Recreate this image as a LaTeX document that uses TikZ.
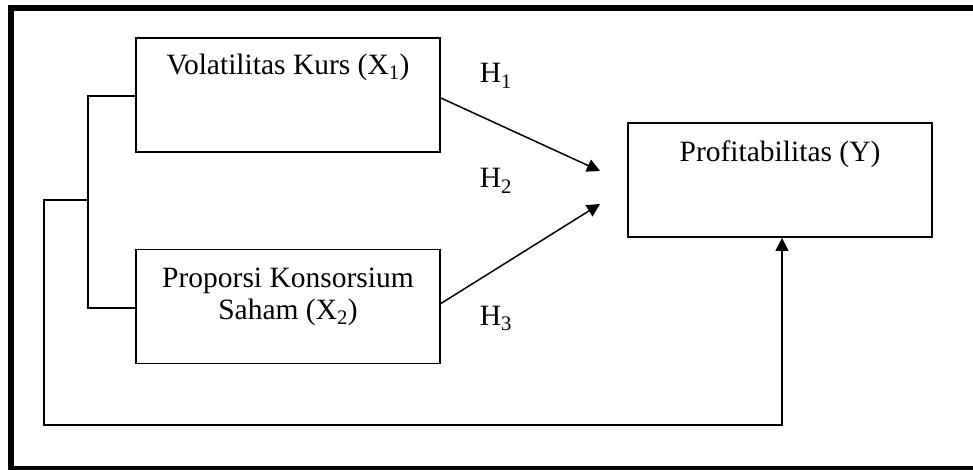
\documentclass[tikz,border=0pt]{standalone}
\usepackage{fontspec}
\setmainfont{Liberation Serif}
\usetikzlibrary{arrows.meta,positioning}
\tikzset{
  varbox/.style={draw, line width=1.8, minimum width=304, minimum height=114, inner sep=0},
  link/.style={line width=1.5, -{Triangle[length=13, width=13]}}
}
\begin{document}
\begin{tikzpicture}[x=1pt, y=-1pt, font=\fontsize{29.5}{31}\selectfont]
\useasboundingbox (0,0) rectangle (973,470);
\clip (0,0) rectangle (973,470);
%frame
\draw[line width=6] (10.5,8.5) rectangle (990,469);
%boxes
\node[varbox] (x1) at (288,95) {};
\node[varbox] (x2) at (288,306.5) {};
\node[varbox] (y) at (780,180) {};
\node[anchor=base] (tx1) at ([yshift=-37]x1.north) {Volatilitas Kurs (X\textsubscript{1})};
\node[align=center] (tx2) at (288,297) {Proporsi Konsorsium\\[1pt]Saham (X\textsubscript{2})};
\node[anchor=base] (ty) at ([yshift=-39]y.north) {Profitabilitas (Y)};
%hypotheses
\node[anchor=base] (h1) at (496,83) {H\textsubscript{1}};
\node[anchor=base] (h2) at (496,188) {H\textsubscript{2}};
\node[anchor=base] (h3) at (496,325) {H\textsubscript{3}};
\coordinate (t1) at (600,171);
\coordinate (t2) at (600,204);
\coordinate (b1) at (88,96);
\coordinate (b2) at (88,308);
\coordinate (b3) at (88,200);
\coordinate (c1) at (44,200);
\coordinate (c2) at (44,425);
\coordinate (c3) at (782,425);
\draw[link] ([yshift=-3]x1.east) -- (t1);
\draw[link] ([yshift=3]x2.east) -- (t2);
\draw[line width=1.3] (x1.west |- b1) -- (b1) -- (b2) -- (x2.west |- b2);
\draw[link, line width=1.3] (b3) -- (c1) -- (c2) -- (c3) -- (y.south -| c3);
\end{tikzpicture}
\end{document}
